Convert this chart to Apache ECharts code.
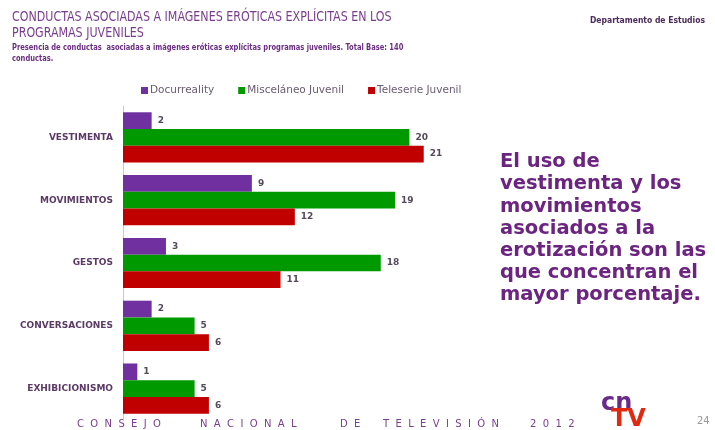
<!DOCTYPE html>
<html><head><meta charset="utf-8">
<script src="https://cdn.jsdelivr.net/npm/echarts@6/dist/echarts.min.js"></script>
<style>html,body{margin:0;padding:0;background:#fff}#c{width:715px;height:430px}</style>
</head><body><div id="c"></div>
<script>
const categories = ['VESTIMENTA','MOVIMIENTOS','GESTOS','CONVERSACIONES','EXHIBICIONISMO'];
const seriesNames = ['Docurreality','Misceláneo Juvenil','Teleserie Juvenil'];
const docurreality = [2, 9, 3, 2, 1];
const miscelaneo = [20, 19, 18, 5, 5];
const teleserie = [21, 12, 11, 6, 6];
const colors = ['#7030a0','#009a00','#c00000'];
const footerWords = ['CONSEJO','NACIONAL','DE','TELEVISIÓN','2012'];
const footerX = [77, 200, 340, 383, 530];

const chart = echarts.init(document.getElementById('c'));
const lab = {show:true, position:'right', distance:6, color:'#55495a', fontFamily:'DejaVu Sans', fontWeight:'bold', fontSize:9};
const mk = (name, data, i) => ({name, type:'bar', data, itemStyle:{color:colors[i]}, label:lab, barCategoryGap:'20%', barGap:'0%'});
const footer = footerWords.map((w, i) => ({type:'text', x:footerX[i], y:419,
  style:{text:w.split('').join('  '), fill:'#7a3d8e', font:'10px "DejaVu Sans", sans-serif'}}));
chart.setOption({
  animation:false,
  legend:{top:80, left:136, itemWidth:7, itemHeight:7, itemGap:24, icon:'rect',
    textStyle:{fontFamily:'DejaVu Sans', fontSize:10.5, color:'#6a5a70', padding:[0,0,0,-3]},
    data:seriesNames},
  grid:{left:123, top:106, width:358, height:314},
  xAxis:{type:'value', min:0, max:25, show:false},
  yAxis:{type:'category', inverse:true, data:categories,
    axisLine:{show:true, lineStyle:{color:'#c8c8c8', width:1}}, axisTick:{show:false},
    axisLabel:{margin:10, color:'#5b3a66', fontFamily:'DejaVu Sans', fontWeight:'bold', fontSize:9}},
  series:[mk(seriesNames[0], docurreality, 0), mk(seriesNames[1], miscelaneo, 1), mk(seriesNames[2], teleserie, 2)],
  graphic:[
    {type:'text', x:12, y:9, scaleX:0.88, style:{text:'CONDUCTAS ASOCIADAS A IMÁGENES ERÓTICAS EXPLÍCITAS EN LOS\nPROGRAMAS JUVENILES', fill:'#7a3d8e', font:'14px "Liberation Sans Narrow", "DejaVu Sans Condensed", sans-serif', lineHeight:16}},
    {type:'text', x:12, y:42, scaleX:0.83, style:{text:'Presencia de conductas  asociadas a imágenes eróticas explícitas programas juveniles. Total Base: 140\nconductas.', fill:'#6b2d80', font:'bold 9px "Liberation Sans Narrow", "DejaVu Sans Condensed", sans-serif', lineHeight:11}},
    {type:'text', right:10, top:16, style:{text:'Departamento de Estudios', fill:'#4a2a5a', font:'bold 8.5px "DejaVu Sans Condensed", sans-serif'}},
    {type:'text', x:500, y:151, style:{text:'El uso de\nvestimenta y los\nmovimientos\nasociados a la\nerotización son las\nque concentran el\nmayor porcentaje.', fill:'#6b2480', font:'bold 19.5px "DejaVu Sans", sans-serif', lineHeight:22.2}},
    ...footer,
    {type:'text', left:601, top:392, style:{text:'cn', fill:'#6a2a8a', font:'bold 24px "DejaVu Sans", sans-serif'}},
    {type:'text', left:611, top:408, style:{text:'TV', fill:'#e02a10', font:'bold 24px "DejaVu Sans", sans-serif'}},
    {type:'text', left:697, top:416, style:{text:'24', fill:'#999999', font:'10px "DejaVu Sans", sans-serif'}}
  ]
});
</script></body></html>
